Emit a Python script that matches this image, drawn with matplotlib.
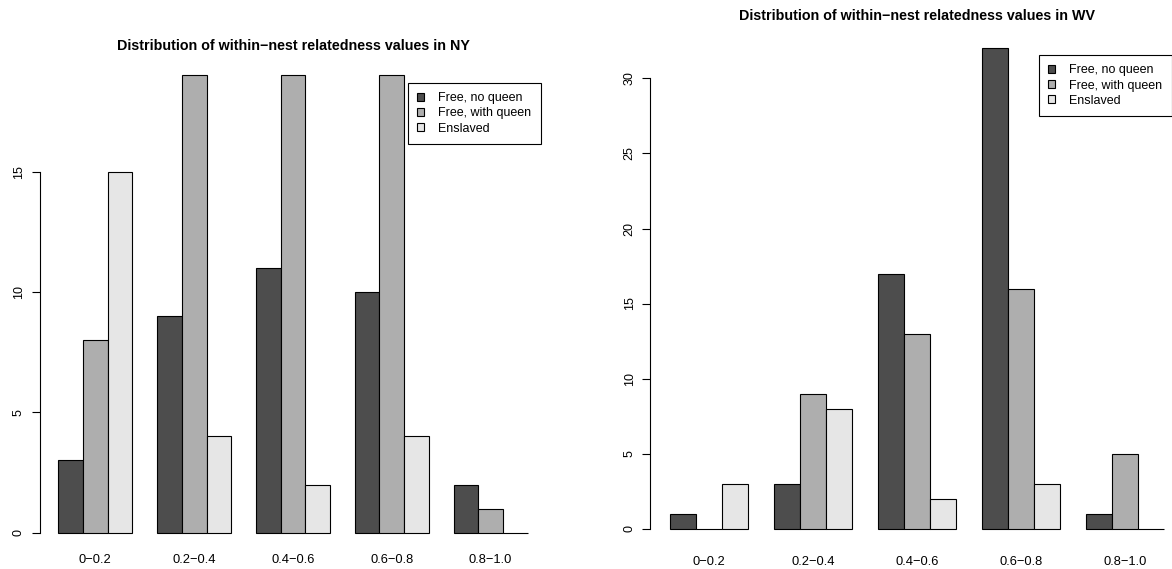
import numpy as np
import matplotlib
matplotlib.use("Agg")
import matplotlib.pyplot as plt

plt.rcParams['font.family'] = ['Liberation Sans', 'DejaVu Sans']

bins = ["0\u22120.2", "0.2\u22120.4", "0.4\u22120.6", "0.6\u22120.8", "0.8\u22121.0"]
groups = ["Free, no queen", "Free, with queen", "Enslaved"]

ny_no_queen = [3, 9, 11, 10, 2]
ny_with_queen = [8, 19, 19, 19, 1]
ny_enslaved = [15, 4, 2, 4, 0]

wv_no_queen = [1, 3, 17, 32, 1]
wv_with_queen = [0, 9, 13, 16, 5]
wv_enslaved = [3, 8, 2, 3, 0]

fills = ["#4D4D4D", "#AEAEAE", "#E6E6E6"]

W, H = 1172, 569
fig = plt.figure(figsize=(W / 100, H / 100), dpi=100)


def px_axes(x0, y0, x1, y1):
    return fig.add_axes([x0 / W, 1 - y1 / H, (x1 - x0) / W, (y1 - y0) / H])


def barplot(ax, series, yticks, title, legend_corner, title_y, label_y):
    n_bins = len(bins)
    n_ser = len(series)
    step = n_ser + 1
    for k, vals in enumerate(series):
        lefts = 1 + step * np.arange(n_bins) + k
        ax.bar(lefts, vals, width=1.0, align="edge", color=fills[k],
               edgecolor="black", linewidth=0.8, label=groups[k])
    top = max(max(s) for s in series)
    span = step * n_bins - 1
    ax.set_xlim(1 - 0.04 * span, step * n_bins + 0.04 * span)
    ax.set_ylim(-0.04 * top, top * 1.04)
    for s in ["top", "right", "bottom"]:
        ax.spines[s].set_visible(False)
    ax.spines["left"].set_bounds(yticks[0], yticks[-1])
    ax.spines["left"].set_linewidth(0.8)
    ax.set_yticks(yticks)
    ax.set_yticklabels([str(t) for t in yticks], rotation=90, va="center", fontsize=9)
    ax.tick_params(axis="y", length=5.5, width=0.8, pad=5)
    ax.set_xticks([])
    ax.patch.set_visible(False)

    # group names centred under each cluster of bars
    centers = 1 + step * np.arange(n_bins) + n_ser / 2
    for c, lab in zip(centers, bins):
        xd = ax.transData.transform((c, 0))[0]
        fig.text(xd / W, 1 - label_y / H, lab, ha="center", va="center", fontsize=9.3)

    bb = ax.get_position()
    fig.text(bb.x0 + bb.width / 2, 1 - title_y / H, title, ha="center", va="center",
             fontsize=10.3, fontweight="bold")

    lx, ly = legend_corner
    leg = ax.legend(loc="upper left", bbox_to_anchor=(lx / W, 1 - ly / H),
                    bbox_transform=fig.transFigure, fontsize=9, frameon=True,
                    fancybox=False, edgecolor="black", framealpha=1,
                    handlelength=0.55, handleheight=0.6, handletextpad=1.1,
                    labelspacing=0.25, borderpad=0.75, borderaxespad=0)
    leg.get_frame().set_linewidth(0.8)
    return leg


ax1 = px_axes(39.5, 57.1, 546.5, 551.0)
barplot(ax1, [ny_no_queen, ny_with_queen, ny_enslaved], [0, 5, 10, 15],
        "Distribution of within\u2212nest relatedness values in NY",
        (408, 83), 46, 560)

ax2 = px_axes(650.2, 29.2, 1184.0, 547.9)
barplot(ax2, [wv_no_queen, wv_with_queen, wv_enslaved], [0, 5, 10, 15, 20, 25, 30],
        "Distribution of within\u2212nest relatedness values in WV",
        (1039, 55), 16, 562)

fig.savefig("out.png", dpi=100)
